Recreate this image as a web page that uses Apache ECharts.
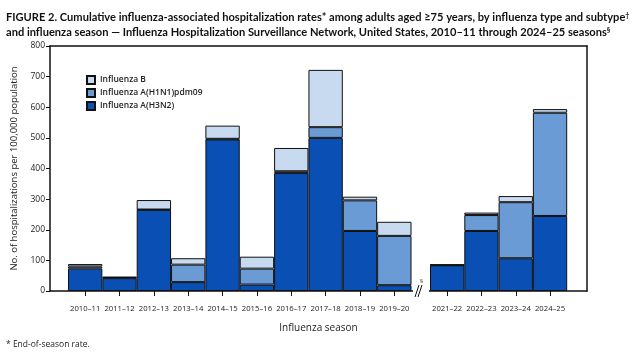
<!DOCTYPE html>
<html><head><meta charset="utf-8">
<script src="https://cdn.jsdelivr.net/npm/echarts@6/dist/echarts.min.js"></script>
<style>html,body{margin:0;padding:0;background:#fff}#c{width:634px;height:358px}</style>
</head><body><div id="c"></div>
<script>
var seasonsA = ['2010–11','2011–12','2012–13','2013–14','2014–15','2015–16','2016–17','2017–18','2018–19','2019–20'];
var seasonsB = ['2021–22','2022–23','2023–24','2024–25'];
var h3n2A = [73, 42, 265, 29, 495, 21, 385, 500, 196, 19];
var h1n1A = [7, 2, 1, 57, 2, 52, 6, 35, 100, 161];
var fluBA = [8, 2, 31, 21, 43, 39, 76, 187, 12, 46];
var h3n2B = [84, 196, 107, 245];
var h1n1B = [1, 52, 183, 337];
var fluBB = [1, 8, 20, 12];
var yTicks = {min: 0, max: 800, interval: 100};

var C_H3 = '#0a50b4', C_H1 = '#6a9bd5', C_B = '#c8daf0';
var FONT = 'Open Sans';
var TFONT = 'Lato';
var border = {borderColor: '#111', borderWidth: 1};

function bars(name, data, color, idx) {
  return {name: name, type: 'bar', stack: 's' + idx, data: data, xAxisIndex: idx, yAxisIndex: idx,
    barCategoryGap: 0, itemStyle: Object.assign({color: color}, border), animation: false};
}
var catAxis = function (data, grid) {
  return {type: 'category', gridIndex: grid, data: data, boundaryGap: true,
    axisLine: {show: false}, axisTick: {show: true, alignWithLabel: true, length: 5, lineStyle: {color: '#111', width: 1}},
    axisLabel: {fontFamily: FONT, fontSize: 7.7, color: '#222', margin: 14, interval: 0}};
};
var hiddenY = function (grid) {
  return {type: 'value', gridIndex: grid, min: yTicks.min, max: yTicks.max, interval: yTicks.interval, show: false};
};
var frameLine = {show: true, onZero: false, lineStyle: {color: '#111', width: 1.5}};
var supStyle = {fontFamily: TFONT, fontWeight: 'bold', fontSize: 7, verticalAlign: 'top', color: '#111', padding: [0, 0, 4, 0]};

var chart = echarts.init(document.getElementById('c'), null, {renderer: 'canvas'});
chart.setOption({
  animation: false,
  title: [
    {text: 'FIGURE 2. Cumulative influenza-associated hospitalization rates* among adults aged ≥75 years, by influenza type and subtype{s|†}',
     left: 1, top: 7, textStyle: {fontFamily: TFONT, fontWeight: 'bold', fontSize: 11.1, color: '#111', rich: {s: supStyle}}},
    {text: 'and influenza season — Influenza Hospitalization Surveillance Network, United States, 2010–11 through 2024–25 seasons{s|§}',
     left: 1, top: 22, textStyle: {fontFamily: TFONT, fontWeight: 'bold', fontSize: 11.1, color: '#111', rich: {s: supStyle}}},
    {text: '* End-of-season rate.', left: 1, top: 335, textStyle: {fontFamily: FONT, fontWeight: 'normal', fontSize: 8.5, color: '#222'}}
  ],
  legend: {orient: 'vertical', left: 81, top: 70, itemWidth: 8, itemHeight: 8, itemGap: 3,
    data: ['Influenza B', 'Influenza A(H1N1)pdm09', 'Influenza A(H3N2)'], icon: 'rect',
    textStyle: {fontFamily: FONT, fontSize: 8.5, fontWeight: 600, color: '#222'}},
  grid: [
    {left: 50, right: 47, top: 46, bottom: 67},
    {left: 68, width: 343.5, top: 46, bottom: 67},
    {left: 430, width: 137.2, top: 46, bottom: 67}
  ],
  xAxis: [
    {type: 'value', gridIndex: 0, min: 0, max: 1, position: 'bottom', axisLine: frameLine, axisTick: {show: false}, axisLabel: {show: false}, splitLine: {show: false},
     name: 'Influenza season', nameLocation: 'middle', nameGap: 32, nameTextStyle: {fontFamily: FONT, fontSize: 10, color: '#222'}},
    catAxis(seasonsA, 1),
    catAxis(seasonsB, 2),
    {type: 'value', gridIndex: 0, min: 0, max: 1, position: 'top', axisLine: frameLine, axisTick: {show: false}, axisLabel: {show: false}, splitLine: {show: false}}
  ],
  yAxis: [
    {type: 'value', gridIndex: 0, min: yTicks.min, max: yTicks.max, interval: yTicks.interval, position: 'left',
     axisLine: frameLine, axisTick: {show: true, length: 4, lineStyle: {color: '#111', width: 1}},
     axisLabel: {fontFamily: FONT, fontSize: 8.5, color: '#222', margin: 5}, splitLine: {show: false},
     name: 'No. of hospitalizations per 100,000 population', nameLocation: 'middle', nameRotate: 90, nameGap: 26,
     nameTextStyle: {fontFamily: FONT, fontSize: 9.5, color: '#222'}},
    hiddenY(1),
    hiddenY(2),
    {type: 'value', gridIndex: 0, min: yTicks.min, max: yTicks.max, position: 'right', axisLine: frameLine, axisTick: {show: false}, axisLabel: {show: false}, splitLine: {show: false}}
  ],
  series: [
    bars('Influenza A(H3N2)', h3n2A, C_H3, 1),
    bars('Influenza A(H1N1)pdm09', h1n1A, C_H1, 1),
    bars('Influenza B', fluBA, C_B, 1),
    bars('Influenza A(H3N2)', h3n2B, C_H3, 2),
    bars('Influenza A(H1N1)pdm09', h1n1B, C_H1, 2),
    bars('Influenza B', fluBB, C_B, 2)
  ],
  graphic: [
    {type: 'rect', shape: {x: 413, y: 288, width: 16, height: 6}, style: {fill: '#fff'}, z: 100},
    {type: 'line', shape: {x1: 415, y1: 297, x2: 419, y2: 285}, style: {stroke: '#111', lineWidth: 1}, z: 101},
    {type: 'line', shape: {x1: 418, y1: 297, x2: 422, y2: 285}, style: {stroke: '#111', lineWidth: 1}, z: 101},
    {type: 'text', x: 420, y: 278, style: {text: '§', fontSize: 6, fontFamily: FONT, fill: '#222'}, z: 101}
  ]
});
</script></body></html>
